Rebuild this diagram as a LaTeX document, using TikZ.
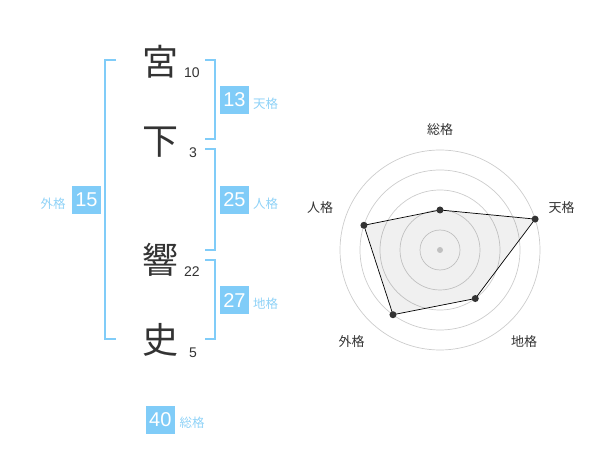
\documentclass[tikz,border=0pt]{standalone}
\usepackage{fontspec}
\setmainfont{Liberation Sans}
\newfontfamily\jpfont{Noto Sans CJK JP}
\definecolor{kakublue}{HTML}{80CCF8}
\definecolor{labelblue}{HTML}{8FD2F7}
\definecolor{inkgray}{HTML}{333333}
\definecolor{ringgray}{HTML}{CCCCCC}

\begin{document}
\begin{tikzpicture}[x=1pt, y=-1pt,
    kanji/.style={font=\jpfont\fontsize{36}{36}\selectfont, text=inkgray, inner sep=0},
    strokes/.style={font=\fontsize{14}{14}\selectfont, text=inkgray, inner sep=0},
    score/.style={fill=kakublue, text=white, minimum width=29pt, minimum height=28pt,
      inner sep=0, font=\fontsize{20}{20}\selectfont},
    kaku/.style={font=\jpfont\fontsize{12.5}{12.5}\selectfont, text=labelblue, inner sep=0},
    bracket/.style={draw=kakublue, line width=1.8pt},
    axis/.style={font=\jpfont\fontsize{13}{13}\selectfont, text=inkgray, inner sep=0},
    ring/.style={draw=ringgray, line width=0.7pt},
    dot/.style={circle, fill=inkgray, inner sep=0, minimum size=7pt}]
  \useasboundingbox (0,0) rectangle (600,470);

  % name
  \node[kanji] (k1) at (160, 61.7) {宮};
  \node[kanji] (k2) at (160, 141.7) {下};
  \node[kanji] (k3) at (160, 260) {響};
  \node[kanji] (k4) at (160, 340) {史};
  \node[strokes] (s1) at (192, 73) {10};
  \node[strokes] (s2) at (193, 153) {3};
  \node[strokes] (s3) at (192, 272) {22};
  \node[strokes] (s4) at (193, 353) {5};

  % brackets
  \draw[bracket] (116, 60) -- (105, 60) -- (105, 339) -- (116, 339);
  \draw[bracket] (205, 60) -- (215, 60) -- (215, 139) -- (205, 139);
  \draw[bracket] (205, 149) -- (215, 149) -- (215, 250) -- (205, 250);
  \draw[bracket] (205, 260) -- (215, 260) -- (215, 339) -- (205, 339);

  % scores
  \node[score] (ten) at (234.5, 100) {13};
  \node[score] (jin) at (234.5, 200) {25};
  \node[score] (chi) at (234.5, 300.5) {27};
  \node[score] (gai) at (86.5, 200) {15};
  \node[score] (sou) at (160.3, 419.5) {40};
  \node[kaku] (ten-l) at (265.7, 104) {天格};
  \node[kaku] (jin-l) at (265.7, 204) {人格};
  \node[kaku] (chi-l) at (265.7, 304) {地格};
  \node[kaku] (gai-l) at (53, 203.5) {外格};
  \node[kaku] (sou-l) at (192, 423) {総格};

  % radar
  \begin{scope}[shift={(440, 250)}, yscale=-1]
    \foreach \r in {20, 40, ..., 100}
      \draw[ring] (0, 0) circle (\r);
    \fill[ringgray] (0, 0) circle (3);
    \coordinate (p1) at (90:40);
    \coordinate (p2) at (18:100);
    \coordinate (p3) at (-54:60);
    \coordinate (p4) at (-126:80);
    \coordinate (p5) at (162:80);
    \draw[line width=0.7pt, fill=black, fill opacity=0.06]
      (p1) -- (p2) -- (p3) -- (p4) -- (p5) -- cycle;
    \foreach \p in {p1, p2, p3, p4, p5}
      \node[dot] at (\p) {};
    \node[axis] (a1) at (0, 120) {総格};
    \node[axis] (a2) at (121.7, 42) {天格};
    \node[axis] (a3) at (84, -92) {地格};
    \node[axis] (a4) at (-88.3, -92) {外格};
    \node[axis] (a5) at (-120, 42) {人格};
  \end{scope}
\end{tikzpicture}
\end{document}
